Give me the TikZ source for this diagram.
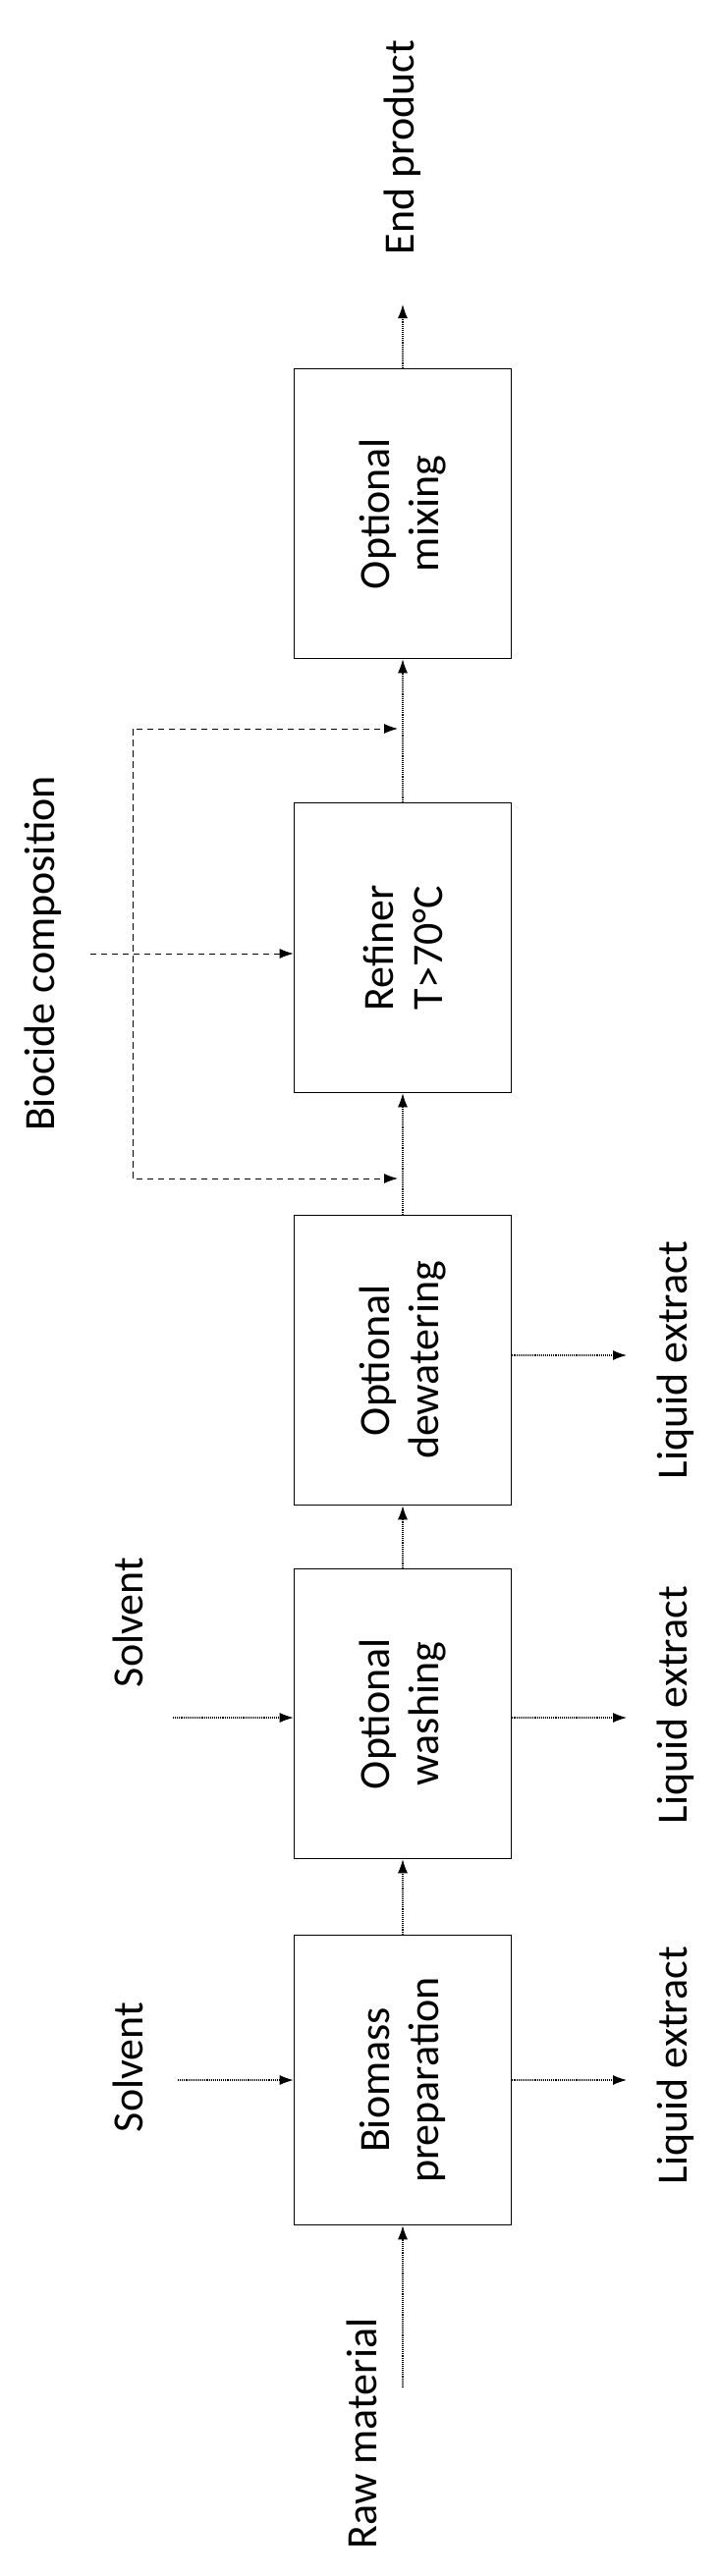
\documentclass[tikz,border=0pt]{standalone}
\usepackage{fontspec}
\setmainfont{Carlito}
\usetikzlibrary{arrows.meta}

\tikzset{
  stage/.style={draw, line width=1.6pt, rotate=90, minimum width=295pt, minimum height=221pt, align=center, inner sep=2pt},
  lbl/.style={rotate=90, inner sep=0pt},
  flow/.style={densely dotted, line width=1.1pt, -{Latex[length=14pt,width=10pt]}},
  feed/.style={dashed, dash pattern=on 6pt off 5pt, line width=1pt}
}

\begin{document}
\begin{tikzpicture}[x=1pt, y=1pt, font=\fontsize{44}{50}\selectfont]
\useasboundingbox (0,0) rectangle (733,-2623);
%%% process stages %%%

      \node[stage] (prep) at (410,-2118) {Biomass\\preparation};
      \node[stage] (wash) at (410,-1745) {Optional\\washing};
      \node[stage] (dewat) at (410,-1385) {Optional\\dewatering};
      \node[stage] (refin) at (410,-965) {Refiner\\T>70°C};
      \node[stage] (mix) at (410,-523) {Optional\\mixing};
      %%
      \node[lbl] (raw) at (368,-2478) {Raw material};
      \node[lbl] (end) at (410,-150) {End product};
      \node[lbl] (solv1) at (130,-2105) {Solvent};
      \node[lbl] (solv2) at (130,-1652) {Solvent};
      \node[lbl] (liq1) at (688,-2103) {Liquid extract};
      \node[lbl] (liq2) at (688,-1736) {Liquid extract};
      \node[lbl] (liq3) at (688,-1385) {Liquid extract};
      \node[lbl] (bio) at (44,-971) {Biocide composition};
      %%
      \coordinate (rawin) at (410,-2431);
      \coordinate (s1) at (181,-2118);
      \coordinate (s2) at (176,-1749);
      \coordinate (l1) at (638,-2118);
      \coordinate (l2) at (638,-1749);
      \coordinate (l3) at (638,-1380);
      \coordinate (b0) at (92,-971);
      \coordinate (btop) at (135,-742);
      \coordinate (bbot) at (135,-1200);
      \coordinate (htop) at (405,-742);
      \coordinate (hbot) at (405,-1200);
      \coordinate (endout) at (410,-310);

%%% connectors %%%
      \draw[flow] (rawin) -- (prep);
      \draw[flow] (prep) -- (wash);
      \draw[flow] (wash) -- (dewat);
      \draw[flow] (dewat) -- (refin);
      \draw[flow] (refin) -- (mix);
      \draw[flow] (mix) -- (endout);
      \draw[flow] (s1) -- (s1 -| prep.north);
      \draw[flow] (s2) -- (s2 -| wash.north);
      \draw[flow] (l1 -| prep.south) -- (l1);
      \draw[flow] (l2 -| wash.south) -- (l2);
      \draw[flow] (l3 -| dewat.south) -- (l3);
      \draw[feed, -{Latex[length=14pt,width=10pt]}] (b0) -- (b0 -| refin.north);
      \draw[feed, -{Latex[length=14pt,width=10pt]}] (bbot) -- (btop) -- (htop);
      \draw[feed, -{Latex[length=14pt,width=10pt]}] (btop) -- (bbot) -- (hbot);

\end{tikzpicture}
\end{document}
